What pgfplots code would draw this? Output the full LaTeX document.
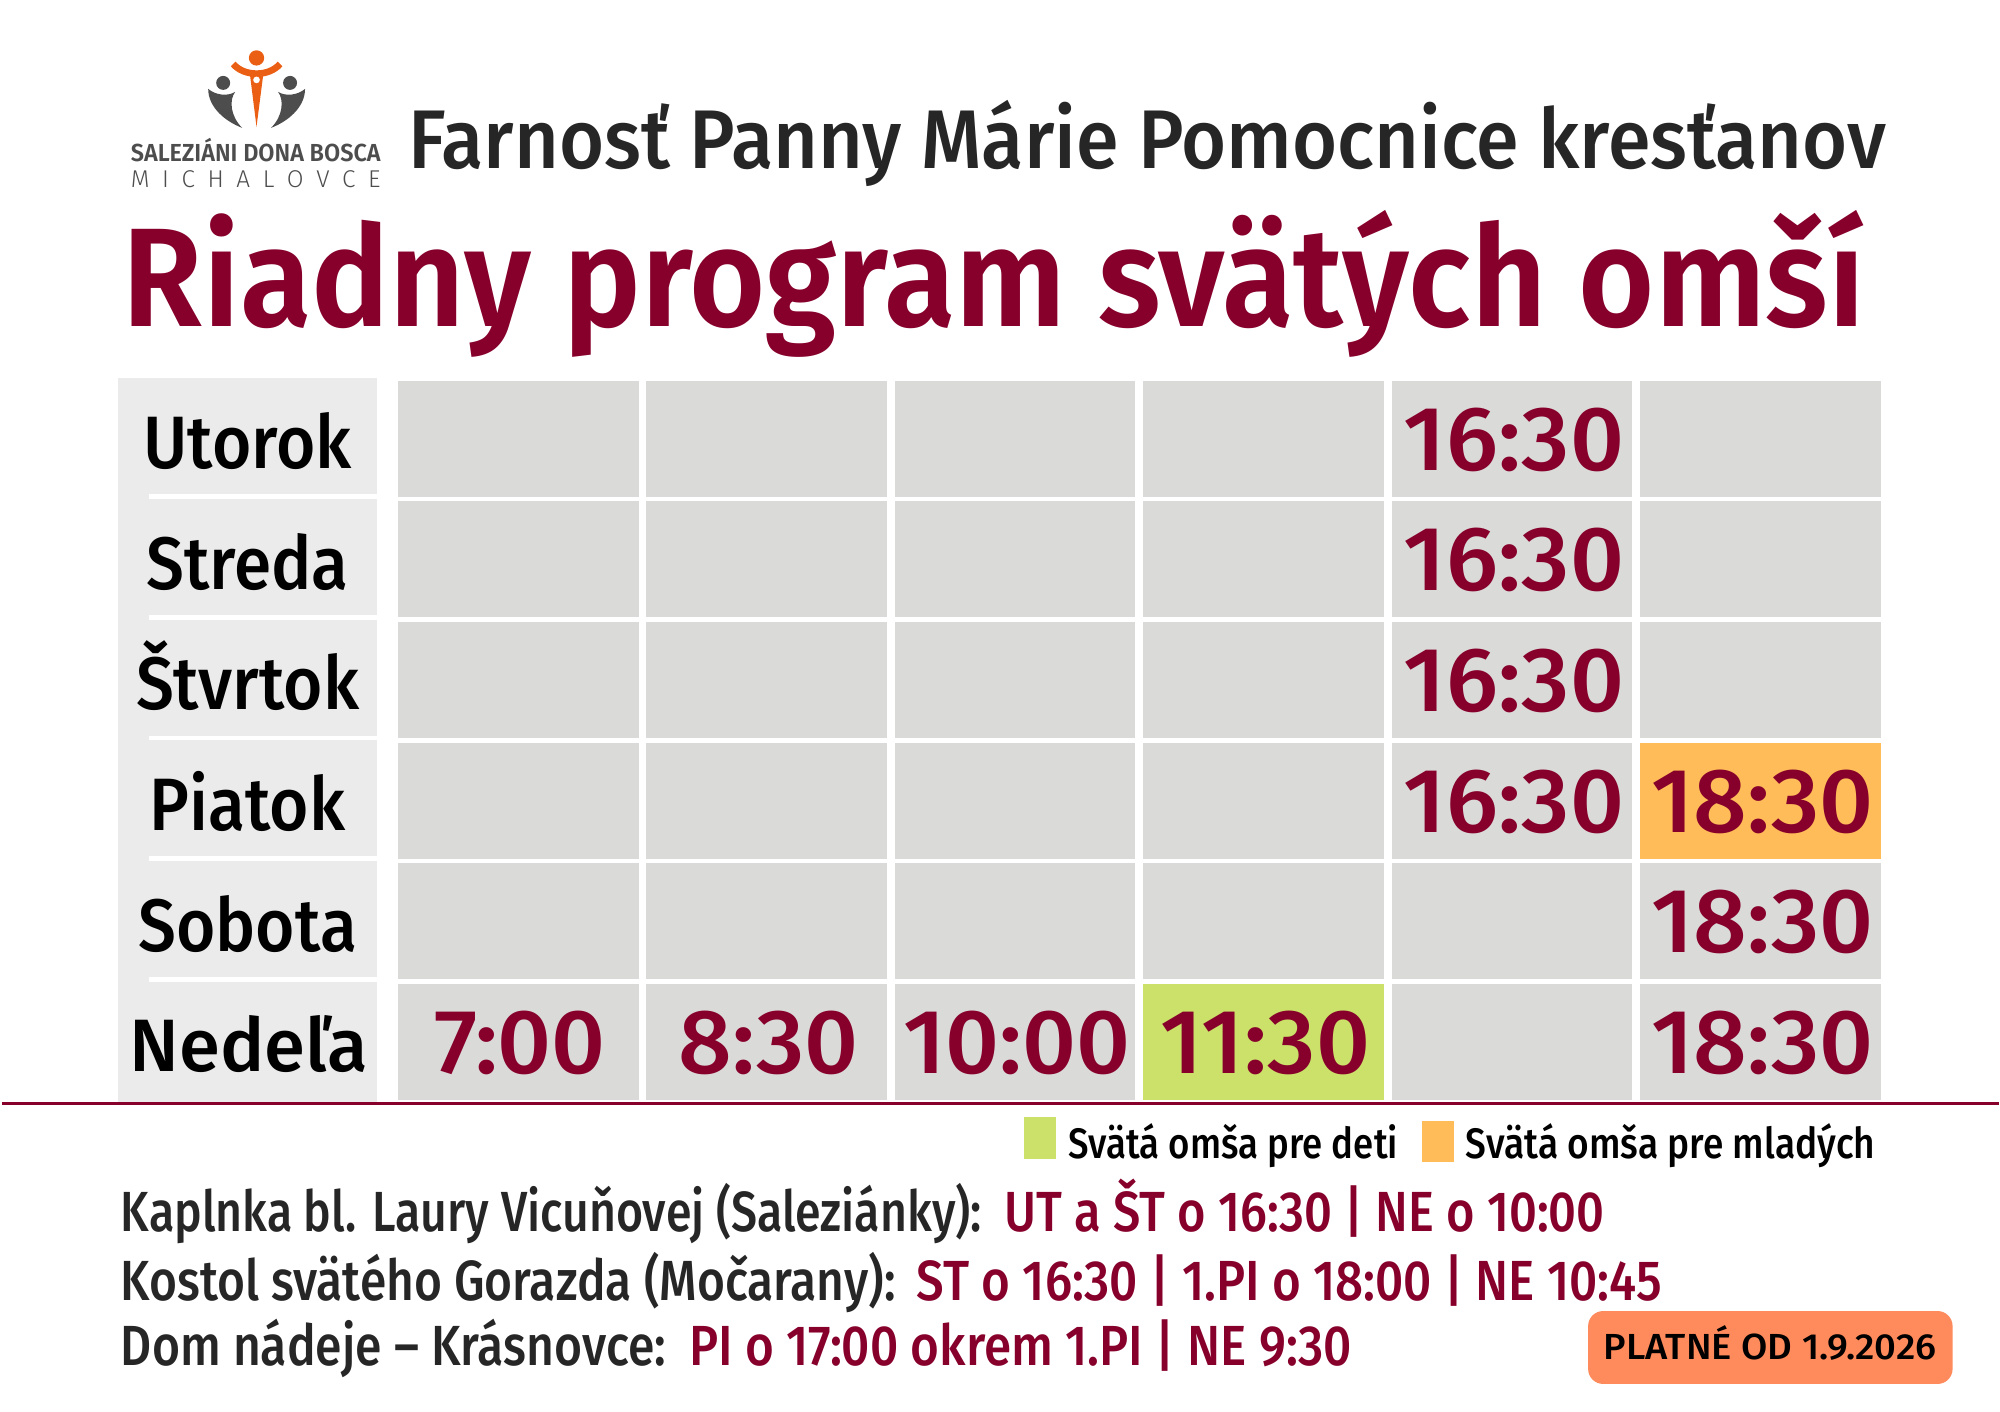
\documentclass[border=0pt]{standalone}
\usepackage{fontspec}
\usepackage{graphicx}
\usepackage{pgfplots}
\usepackage{pgfplotstable}
\pgfplotsset{compat=1.18}
\setmainfont{Fira Sans}
\newfontfamily\fmed{Fira Sans Medium}
\newfontfamily\ftime{Fira Sans Medium}[FakeStretch=1.035]
\newfontfamily\fday{Fira Sans Medium}[FakeStretch=0.91]
\newfontfamily\fsemi{Fira Sans SemiBold}
\newfontfamily\flight{Fira Sans Light}

\definecolor{wine}{RGB}{134,0,43}
\definecolor{ink}{RGB}{38,38,38}
\definecolor{cellgray}{RGB}{218,218,216}
\definecolor{daygray}{RGB}{235,235,235}
\definecolor{kidgreen}{RGB}{203,225,106}
\definecolor{youth}{RGB}{255,188,89}
\definecolor{badge}{RGB}{255,138,92}
\definecolor{logoorange}{RGB}{235,95,20}
\definecolor{logogray}{RGB}{77,77,77}

% 1 px of the original = 0.3pt
\newcommand{\fs}[1]{\fontsize{#1}{#1}\selectfont}
\newcommand{\fitw}[2]{\resizebox{#1}{\height}{#2}}

\pgfdeclareplotmark{cell}{%
  \pgfpathrectangle{\pgfpoint{-36.15pt}{-17.4pt}}{\pgfpoint{72.3pt}{34.8pt}}%
  \pgfusepathqfill}

% c = time column, r = day row, cls: g plain, k children, y youth
\pgfplotstableread{
c r cls
1 1 g
2 1 g
3 1 g
4 1 g
5 1 g
6 1 g
1 2 g
2 2 g
3 2 g
4 2 g
5 2 g
6 2 g
1 3 g
2 3 g
3 3 g
4 3 g
5 3 g
6 3 g
1 4 g
2 4 g
3 4 g
4 4 g
5 4 g
6 4 y
1 5 g
2 5 g
3 5 g
4 5 g
5 5 g
6 5 g
1 6 g
2 6 g
3 6 g
4 6 k
5 6 g
6 6 g
}\cells

\pgfplotstableread{
c r t
5 1 16:30
5 2 16:30
5 3 16:30
5 4 16:30
6 4 18:30
6 5 18:30
1 6 7:00
2 6 8:30
3 6 10:00
4 6 11:30
6 6 18:30
}\masses

\pgfplotstableread{
r day
1 Utorok
2 Streda
3 Štvrtok
4 Piatok
5 Sobota
}\days

\pgfplotstableread{
r day
6 Nedeľa
}\sunday

\begin{document}
\begin{tikzpicture}
\begin{axis}[
  width=600pt, height=424.2pt, scale only axis,
  xmin=0, xmax=2000, ymin=0, ymax=1414, y dir=reverse,
  hide axis, clip=false,
]
\path (axis cs:0,0) rectangle (axis cs:2000,1414);

% day column
\addplot[draw=none, fill=daygray] coordinates {(117,379) (376,379) (376,1104) (117,1104)} -- cycle;
\fill[white] (axis cs:148,495) rectangle (axis cs:376,499.8);
\fill[white] (axis cs:148,615.8) rectangle (axis cs:376,620.6);
\fill[white] (axis cs:148,736.6) rectangle (axis cs:376,741.4);
\fill[white] (axis cs:148,857.4) rectangle (axis cs:376,862.2);
\fill[white] (axis cs:148,978.2) rectangle (axis cs:376,983);

% schedule cells
\addplot[scatter, only marks, scatter src=explicit symbolic,
  scatter/classes={g={mark=cell,fill=cellgray}, k={mark=cell,fill=kidgreen}, y={mark=cell,fill=youth}}]
  table[x expr={268.7+248.8*\thisrow{c}}, y expr={318.6+120.8*\thisrow{r}}, meta=cls] {\cells};

% times
\addplot[only marks, mark=none, point meta=explicit symbolic, nodes near coords,
  every node near coord/.style={anchor=base, inner sep=0pt, yshift=-9.45pt, text=wine, font=\ftime\fs{27.4}}]
  table[x expr={270.7+248.8*\thisrow{c}}, y expr={318.6+120.8*\thisrow{r}}, meta=t] {\masses};

% day names
\addplot[only marks, mark=none, point meta=explicit symbolic, nodes near coords,
  every node near coord/.style={anchor=base, inner sep=0pt, yshift=-9pt, text=black, font=\fday\fs{22.3}}]
  table[x expr=246.5, y expr={318.6+120.8*\thisrow{r}}, meta=day] {\days};
\addplot[only marks, mark=none, point meta=explicit symbolic, nodes near coords,
  every node near coord/.style={anchor=base, inner sep=0pt, yshift=-9pt, text=black, font=\fmed\fs{22.3}}]
  table[x expr=247.5, y expr={318.6+120.8*\thisrow{r}}, meta=day] {\sunday};

% rule under the table
\addplot[wine, line width=0.9pt] coordinates {(0,1105.5) (2000,1105.5)};

% titles
\node[anchor=base west, inner sep=0pt, text=ink, font=\fmed\fs{25}] at (axis cs:407,169)
  {\fitw{444pt}{Farnosť Panny Márie Pomocnice kresťanov}};
\node[anchor=base west, inner sep=0pt, text=wine, font=\fsemi\fs{42.2}] at (axis cs:121,327)
  {\fitw{523.5pt}{Riadny program svätých omší}};

% logo
\fill[logoorange] (axis cs:255.4,58) circle[radius=2.3pt];
\draw[logoorange, line width=2pt] (axis cs:232,64) .. controls (axis cs:243,77) and (axis cs:268,77) .. (axis cs:279,64);
\fill[logoorange] (axis cs:248.5,72) -- (axis cs:262.5,72) -- (axis cs:255.4,127) -- cycle;
\fill[white] (axis cs:255.4,80) circle[radius=1pt];
\fill[logogray] (axis cs:222,83) circle[radius=2.1pt];
\fill[logogray] (axis cs:289,83) circle[radius=2.1pt];
\fill[logogray] (axis cs:207,89) .. controls (axis cs:207,108) and (axis cs:225,122) .. (axis cs:241,128)
  .. controls (axis cs:229,116) and (axis cs:228,100) .. (axis cs:234,92)
  .. controls (axis cs:226,97) and (axis cs:214,95) .. (axis cs:207,89) -- cycle;
\fill[logogray] (axis cs:304,89) .. controls (axis cs:304,108) and (axis cs:286,122) .. (axis cs:270,128)
  .. controls (axis cs:282,116) and (axis cs:283,100) .. (axis cs:277,92)
  .. controls (axis cs:285,97) and (axis cs:297,95) .. (axis cs:304,89) -- cycle;
\node[anchor=base west, inner sep=0pt, text=logogray, font=\fsemi\fs{7.4}] at (axis cs:129,162)
  {\fitw{75pt}{SALEZIÁNI DONA BOSCA}};
\node[anchor=base west, inner sep=0pt, text=logogray, font=\flight\fs{7.3}] at (axis cs:129,188)
  {\makebox[75pt][s]{M\hfill I\hfill C\hfill H\hfill A\hfill L\hfill O\hfill V\hfill C\hfill E}};

% legend
\fill[kidgreen] (axis cs:1024,1119) rectangle (axis cs:1056,1161);
\node[anchor=base west, inner sep=0pt, font=\fmed\fs{12.8}] at (axis cs:1068,1160)
  {\fitw{99pt}{Svätá omša pre deti}};
\fill[youth] (axis cs:1423,1123) rectangle (axis cs:1455,1164);
\node[anchor=base west, inner sep=0pt, font=\fmed\fs{12.8}] at (axis cs:1466,1160)
  {\fitw{123pt}{Svätá omša pre mladých}};

% other churches
\node[anchor=base west, inner sep=0pt, text=ink, font=\fmed\fs{17}] at (axis cs:119,1233)
  {\fitw{258.6pt}{Kaplnka bl. Laury Vicuňovej (Saleziánky):}};
\node[anchor=base west, inner sep=0pt, text=wine, font=\fmed\fs{17}] at (axis cs:1004,1233)
  {\fitw{180.3pt}{UT a ŠT o 16:30 | NE o 10:00}};
\node[anchor=base west, inner sep=0pt, text=ink, font=\fmed\fs{17}] at (axis cs:119,1302)
  {\fitw{232.8pt}{Kostol svätého Gorazda (Močarany):}};
\node[anchor=base west, inner sep=0pt, text=wine, font=\fmed\fs{17}] at (axis cs:916,1302)
  {\fitw{223.8pt}{ST o 16:30 | 1.PI o 18:00 | NE 10:45}};
\node[anchor=base west, inner sep=0pt, text=ink, font=\fmed\fs{17}] at (axis cs:119,1368)
  {\fitw{163.8pt}{Dom nádeje – Krásnovce:}};
\node[anchor=base west, inner sep=0pt, text=wine, font=\fmed\fs{17}] at (axis cs:688,1368)
  {\fitw{199.2pt}{PI o 17:00 okrem 1.PI | NE 9:30}};

% validity badge
\fill[badge, rounded corners=4.5pt] (axis cs:1589,1313) rectangle (axis cs:1954,1386);
\node[anchor=base west, inner sep=0pt, font=\fmed\fs{10.9}] at (axis cs:1604,1362)
  {\fitw{100pt}{PLATNÉ OD 1.9.2026}};
\end{axis}
\end{tikzpicture}
\end{document}
